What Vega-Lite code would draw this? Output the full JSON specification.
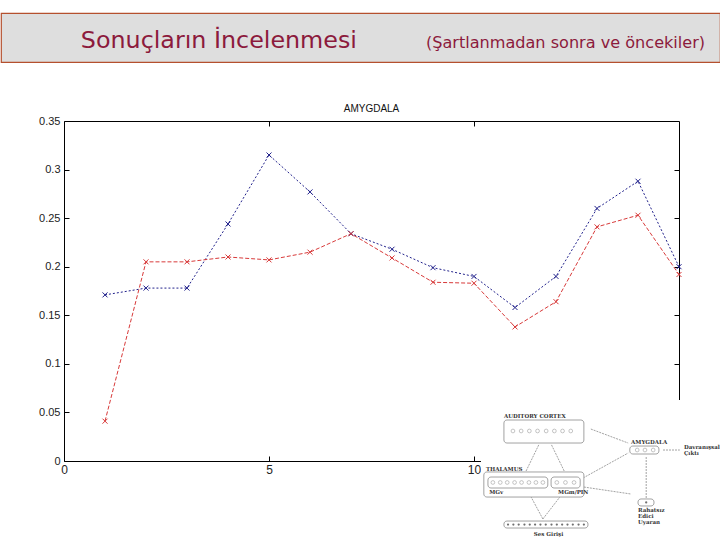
{
  "$schema": "https://vega.github.io/schema/vega-lite/v6.json",
  "padding": {"top": 12, "left": 0, "right": 0, "bottom": 0},
  "background": "white",
  "bounds": "flush",
  "spacing": 59,
  "config": {"view": {"stroke": null}, "axis": {"zindex": 0}},
  "datasets": {
    "amigdala": [
      {"deneme": 1, "deger": 0.171, "seri": "Şartlanmadan sonra"},
      {"deneme": 2, "deger": 0.178, "seri": "Şartlanmadan sonra"},
      {"deneme": 3, "deger": 0.178, "seri": "Şartlanmadan sonra"},
      {"deneme": 4, "deger": 0.244, "seri": "Şartlanmadan sonra"},
      {"deneme": 5, "deger": 0.315, "seri": "Şartlanmadan sonra"},
      {"deneme": 6, "deger": 0.277, "seri": "Şartlanmadan sonra"},
      {"deneme": 7, "deger": 0.234, "seri": "Şartlanmadan sonra"},
      {"deneme": 8, "deger": 0.218, "seri": "Şartlanmadan sonra"},
      {"deneme": 9, "deger": 0.199, "seri": "Şartlanmadan sonra"},
      {"deneme": 10, "deger": 0.190, "seri": "Şartlanmadan sonra"},
      {"deneme": 11, "deger": 0.158, "seri": "Şartlanmadan sonra"},
      {"deneme": 12, "deger": 0.190, "seri": "Şartlanmadan sonra"},
      {"deneme": 13, "deger": 0.260, "seri": "Şartlanmadan sonra"},
      {"deneme": 14, "deger": 0.288, "seri": "Şartlanmadan sonra"},
      {"deneme": 15, "deger": 0.200, "seri": "Şartlanmadan sonra"},
      {"deneme": 1, "deger": 0.041, "seri": "Şartlanmadan önce"},
      {"deneme": 2, "deger": 0.205, "seri": "Şartlanmadan önce"},
      {"deneme": 3, "deger": 0.205, "seri": "Şartlanmadan önce"},
      {"deneme": 4, "deger": 0.210, "seri": "Şartlanmadan önce"},
      {"deneme": 5, "deger": 0.207, "seri": "Şartlanmadan önce"},
      {"deneme": 6, "deger": 0.215, "seri": "Şartlanmadan önce"},
      {"deneme": 7, "deger": 0.234, "seri": "Şartlanmadan önce"},
      {"deneme": 8, "deger": 0.209, "seri": "Şartlanmadan önce"},
      {"deneme": 9, "deger": 0.184, "seri": "Şartlanmadan önce"},
      {"deneme": 10, "deger": 0.183, "seri": "Şartlanmadan önce"},
      {"deneme": 11, "deger": 0.138, "seri": "Şartlanmadan önce"},
      {"deneme": 12, "deger": 0.164, "seri": "Şartlanmadan önce"},
      {"deneme": 13, "deger": 0.241, "seri": "Şartlanmadan önce"},
      {"deneme": 14, "deger": 0.253, "seri": "Şartlanmadan önce"},
      {"deneme": 15, "deger": 0.192, "seri": "Şartlanmadan önce"}
    ],
    "kutular": [
      {"ad": "AUDITORY CORTEX", "x": 10.73, "x2": 12.68, "y": 0.0422, "y2": 0.0185},
      {"ad": "THALAMUS", "x": 10.24, "x2": 12.68, "y": -0.0113, "y2": -0.0371},
      {"ad": "MGv", "x": 10.34, "x2": 11.80, "y": -0.0165, "y2": -0.0278},
      {"ad": "MGm/PIN", "x": 11.88, "x2": 12.59, "y": -0.0165, "y2": -0.0278},
      {"ad": "Ses Girişi", "x": 10.73, "x2": 12.78, "y": -0.0618, "y2": -0.0690},
      {"ad": "AMYGDALA", "x": 13.80, "x2": 14.51, "y": 0.0154, "y2": 0.0072},
      {"ad": "Uyaran", "x": 14.00, "x2": 14.39, "y": -0.0391, "y2": -0.0463}
    ],
    "halkalar": [
      {"x": 10.95, "y": 0.0309}, {"x": 11.15, "y": 0.0309}, {"x": 11.35, "y": 0.0309}, {"x": 11.55, "y": 0.0309},
      {"x": 11.76, "y": 0.0309}, {"x": 11.96, "y": 0.0309}, {"x": 12.16, "y": 0.0309}, {"x": 12.36, "y": 0.0309},
      {"x": 10.46, "y": -0.0221}, {"x": 10.64, "y": -0.0221}, {"x": 10.81, "y": -0.0221}, {"x": 10.99, "y": -0.0221},
      {"x": 11.16, "y": -0.0221}, {"x": 11.34, "y": -0.0221}, {"x": 11.51, "y": -0.0221}, {"x": 11.68, "y": -0.0221},
      {"x": 12.02, "y": -0.0221}, {"x": 12.23, "y": -0.0221}, {"x": 12.44, "y": -0.0221},
      {"x": 13.98, "y": 0.0113}, {"x": 14.17, "y": 0.0113}, {"x": 14.37, "y": 0.0113}
    ],
    "noktalar": [
      {"x": 10.83, "y": -0.0654}, {"x": 10.96, "y": -0.0654}, {"x": 11.09, "y": -0.0654}, {"x": 11.23, "y": -0.0654},
      {"x": 11.36, "y": -0.0654}, {"x": 11.49, "y": -0.0654}, {"x": 11.62, "y": -0.0654}, {"x": 11.75, "y": -0.0654},
      {"x": 11.89, "y": -0.0654}, {"x": 12.02, "y": -0.0654}, {"x": 12.15, "y": -0.0654}, {"x": 12.28, "y": -0.0654},
      {"x": 12.41, "y": -0.0654}, {"x": 12.55, "y": -0.0654}, {"x": 12.68, "y": -0.0654},
      {"x": 14.20, "y": -0.0427}
    ],
    "oklar": [
      {"x": 12.85, "y": 0.0329, "x2": 13.76, "y2": 0.0185},
      {"x": 12.66, "y": -0.0175, "x2": 13.76, "y2": 0.0082},
      {"x": 12.68, "y": -0.0268, "x2": 13.83, "y2": -0.0340},
      {"x": 14.20, "y": -0.0381, "x2": 14.20, "y2": 0.0041},
      {"x": 11.27, "y": -0.0103, "x2": 11.59, "y2": 0.0175},
      {"x": 12.20, "y": -0.0103, "x2": 11.88, "y2": 0.0175},
      {"x": 11.68, "y": -0.0597, "x2": 11.34, "y2": -0.0329},
      {"x": 11.68, "y": -0.0597, "x2": 12.17, "y2": -0.0329},
      {"x": 14.61, "y": 0.0113, "x2": 15.02, "y2": 0.0113}
    ],
    "etiketler": [
      {"metin": "AUDITORY CORTEX", "x": 10.73, "y": 0.0463},
      {"metin": "THALAMUS", "x": 10.29, "y": -0.0082},
      {"metin": "MGv", "x": 10.37, "y": -0.0319},
      {"metin": "MGm/PIN", "x": 12.05, "y": -0.0319},
      {"metin": "Ses Girişi", "x": 11.46, "y": -0.0751},
      {"metin": "AMYGDALA", "x": 13.83, "y": 0.0196},
      {"metin": "Davranışsal", "x": 15.12, "y": 0.0144},
      {"metin": "Çıktı", "x": 15.12, "y": 0.0082},
      {"metin": "Rahatsız", "x": 14.00, "y": -0.0504},
      {"metin": "Edici", "x": 14.00, "y": -0.0566},
      {"metin": "Uyaran", "x": 14.00, "y": -0.0628}
    ]
  },
  "vconcat": [
    {
      "width": 719,
      "height": 49,
      "view": {"fill": "#dedede", "stroke": "#b5502e", "strokeWidth": 1.2},
      "data": {"values": [
        {"metin": "Sonuçların İncelenmesi", "tur": "baslik"},
        {"metin": "(Şartlanmadan sonra ve öncekiler)", "tur": "alt"}
      ]},
      "layer": [
        {
          "transform": [{"filter": "datum.tur === 'baslik'"}],
          "mark": {"type": "text", "align": "left", "baseline": "alphabetic", "font": "DejaVu Sans", "fontSize": 23.8, "color": "#8c1a3c"},
          "encoding": {
            "text": {"field": "metin"},
            "x": {"datum": 0.111, "type": "quantitative", "scale": {"domain": [0, 1]}, "axis": null},
            "y": {"datum": 0.29, "type": "quantitative", "scale": {"domain": [0, 1]}, "axis": null}
          }
        },
        {
          "transform": [{"filter": "datum.tur === 'alt'"}],
          "mark": {"type": "text", "align": "left", "baseline": "alphabetic", "font": "DejaVu Sans", "fontSize": 16.1, "color": "#8c1a3c"},
          "encoding": {
            "text": {"field": "metin"},
            "x": {"datum": 0.591, "type": "quantitative", "scale": {"domain": [0, 1]}, "axis": null},
            "y": {"datum": 0.29, "type": "quantitative", "scale": {"domain": [0, 1]}, "axis": null}
          }
        }
      ]
    },
    {
      "bounds": "flush",
      "spacing": 0,
      "hconcat": [
        {
          "width": 63,
          "height": 340,
          "data": {"values": [{"b": ""}]},
          "mark": {"type": "text"},
          "encoding": {"text": {"field": "b"}}
        },
        {
          "width": 615,
          "height": 340,
          "title": {"text": "AMYGDALA", "font": "Liberation Sans", "fontSize": 10, "fontWeight": "normal", "color": "#111", "offset": 1},
          "resolve": {"axis": {"x": "independent", "y": "independent"}},
          "layer": [
            {
              "data": {"name": "amigdala"},
              "mark": {"type": "line", "strokeWidth": 1},
              "encoding": {
                "x": {"field": "deneme", "type": "quantitative", "scale": {"domain": [0, 15], "nice": false, "zero": false},
                  "axis": {"orient": "bottom", "values": [0, 5, 10, 15], "title": null, "grid": false, "domain": true, "domainColor": "#000", "ticks": true, "tickSize": -5, "tickColor": "#000", "labelPadding": 8, "labelFont": "Liberation Sans", "labelFontSize": 12, "labelColor": "#222", "labelFlush": false}},
                "y": {"field": "deger", "type": "quantitative", "scale": {"domain": [0, 0.35], "nice": false, "zero": false},
                  "axis": {"orient": "left", "values": [0, 0.05, 0.1, 0.15, 0.2, 0.25, 0.3, 0.35], "format": "~g", "title": null, "grid": false, "domain": true, "domainColor": "#000", "ticks": true, "tickSize": -5, "tickColor": "#000", "labelPadding": 9, "labelFont": "Liberation Sans", "labelFontSize": 11, "labelColor": "#222", "labelFlush": false}},
                "color": {"field": "seri", "type": "nominal", "scale": {"domain": ["Şartlanmadan sonra", "Şartlanmadan önce"], "range": ["#22228c", "#d83a3a"]}, "legend": null},
                "strokeDash": {"field": "seri", "type": "nominal", "scale": {"domain": ["Şartlanmadan sonra", "Şartlanmadan önce"], "range": [[2, 2], [4, 2]]}, "legend": null}
              }
            },
            {
              "data": {"name": "amigdala"},
              "mark": {"type": "point", "shape": "M-1,-1L1,1M1,-1L-1,1", "filled": false, "size": 25, "strokeWidth": 1, "opacity": 1},
              "encoding": {
                "x": {"field": "deneme", "type": "quantitative", "scale": {"domain": [0, 15], "nice": false, "zero": false},
                  "axis": {"orient": "top", "values": [5, 10], "title": null, "grid": false, "labels": false, "domain": true, "domainColor": "#000", "ticks": true, "tickSize": -5, "tickColor": "#000"}},
                "y": {"field": "deger", "type": "quantitative", "scale": {"domain": [0, 0.35], "nice": false, "zero": false},
                  "axis": {"orient": "right", "values": [0.05, 0.1, 0.15, 0.2, 0.25, 0.3], "title": null, "grid": false, "labels": false, "domain": true, "domainColor": "#000", "ticks": true, "tickSize": -5, "tickColor": "#000"}},
                "color": {"field": "seri", "type": "nominal", "scale": {"domain": ["Şartlanmadan sonra", "Şartlanmadan önce"], "range": ["#22228c", "#d83a3a"]}, "legend": null}
              }
            },
            {
              "data": {"values": [{"bolge": "şema"}]},
              "mark": {"type": "rect", "fill": "white", "stroke": null, "zindex": 2},
              "encoding": {
                "x": {"datum": 10.17, "type": "quantitative", "scale": {"domain": [0, 15], "nice": false, "zero": false}, "axis": null},
                "x2": {"datum": 16.02},
                "y": {"datum": 0.0628, "type": "quantitative", "scale": {"domain": [0, 0.35], "nice": false, "zero": false}, "axis": null},
                "y2": {"datum": -0.0824}
              }
            },
            {
              "data": {"name": "oklar"},
              "mark": {"type": "rule", "stroke": "#8a8a8a", "strokeWidth": 0.8, "strokeDash": [2, 1], "zindex": 3},
              "encoding": {
                "x": {"field": "x", "type": "quantitative", "scale": {"domain": [0, 15], "nice": false, "zero": false}, "axis": null},
                "x2": {"field": "x2"},
                "y": {"field": "y", "type": "quantitative", "scale": {"domain": [0, 0.35], "nice": false, "zero": false}, "axis": null},
                "y2": {"field": "y2"}
              }
            },
            {
              "data": {"name": "kutular"},
              "mark": {"type": "rect", "fill": "white", "stroke": "#8a8a8a", "strokeWidth": 0.8, "cornerRadius": 3, "zindex": 4},
              "encoding": {
                "x": {"field": "x", "type": "quantitative", "scale": {"domain": [0, 15], "nice": false, "zero": false}, "axis": null},
                "x2": {"field": "x2"},
                "y": {"field": "y", "type": "quantitative", "scale": {"domain": [0, 0.35], "nice": false, "zero": false}, "axis": null},
                "y2": {"field": "y2"}
              }
            },
            {
              "data": {"name": "halkalar"},
              "mark": {"type": "point", "shape": "circle", "filled": false, "size": 14, "stroke": "#8a8a8a", "strokeWidth": 0.7, "zindex": 5},
              "encoding": {
                "x": {"field": "x", "type": "quantitative", "scale": {"domain": [0, 15], "nice": false, "zero": false}, "axis": null},
                "y": {"field": "y", "type": "quantitative", "scale": {"domain": [0, 0.35], "nice": false, "zero": false}, "axis": null}
              }
            },
            {
              "data": {"name": "noktalar"},
              "mark": {"type": "point", "shape": "circle", "filled": true, "size": 5, "color": "#333", "zindex": 5},
              "encoding": {
                "x": {"field": "x", "type": "quantitative", "scale": {"domain": [0, 15], "nice": false, "zero": false}, "axis": null},
                "y": {"field": "y", "type": "quantitative", "scale": {"domain": [0, 0.35], "nice": false, "zero": false}, "axis": null}
              }
            },
            {
              "data": {"name": "etiketler"},
              "mark": {"type": "text", "align": "left", "baseline": "middle", "font": "DejaVu Serif", "fontSize": 5.5, "fontWeight": "bold", "color": "#333", "zindex": 5},
              "encoding": {
                "text": {"field": "metin"},
                "x": {"field": "x", "type": "quantitative", "scale": {"domain": [0, 15], "nice": false, "zero": false}, "axis": null},
                "y": {"field": "y", "type": "quantitative", "scale": {"domain": [0, 0.35], "nice": false, "zero": false}, "axis": null}
              }
            }
          ]
        }
      ]
    }
  ]
}
